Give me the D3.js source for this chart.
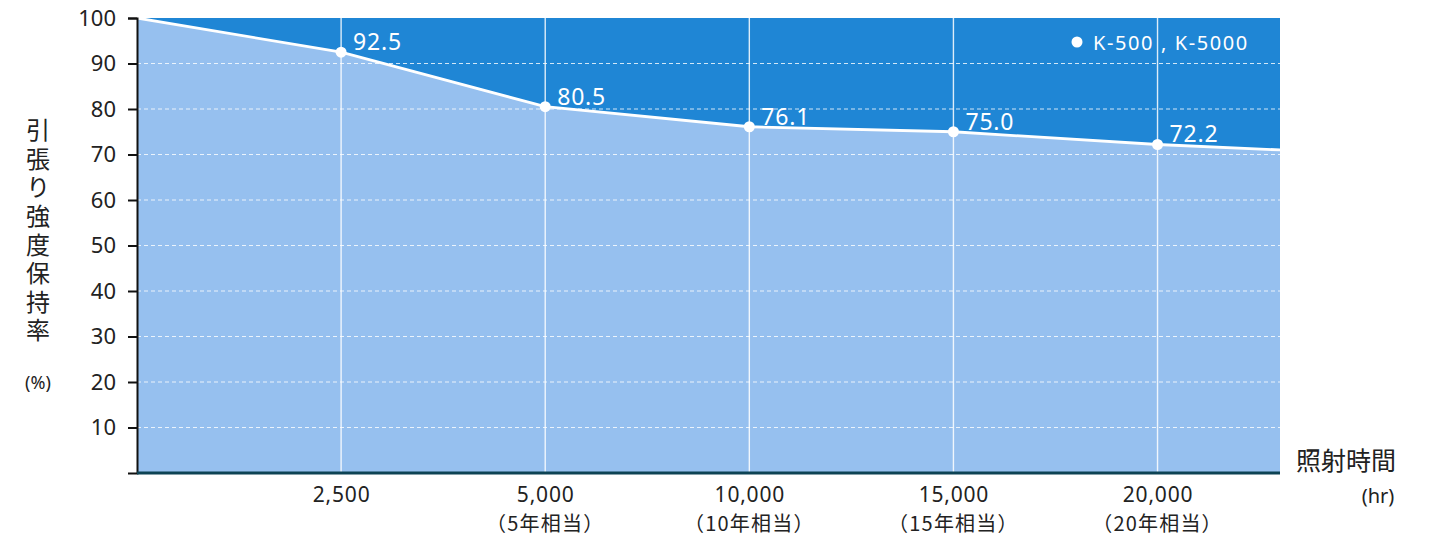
<!DOCTYPE html>
<html>
<head>
<meta charset="utf-8">
<script src="https://cdn.jsdelivr.net/npm/d3@7"></script>
<style>
  body { margin: 0; background: #fff; }
  svg { font-family: "Noto Sans", "Noto Sans CJK JP", sans-serif; }
</style>
</head>
<body>
<div id="chart"></div>
<script>
// data
var hours = ["0", "2,500", "5,000", "10,000", "15,000", "20,000", ""];
var years = ["", "", "（5年相当）", "（10年相当）", "（15年相当）", "（20年相当）", ""];
var values = [100, 92.5, 80.5, 76.1, 75.0, 72.2, 70.2];
var showPoint = [false, true, true, true, true, true, false];
var yTicks = [10, 20, 30, 40, 50, 60, 70, 80, 90, 100];
var yTitle = "引張り強度保持率";
var legendText = "K-500 , K-5000";

var w = 1430, h = 537,
    plotLeft = 137, plotRight = 1280,
    plotTop = 18, plotBottom = 473;

var darkBlue = "#1f86d5",
    lightBlue = "#96c0ef",
    ink = "#222";

var data = values.map(function (v, i) {
    return { i: i, v: v, hr: hours[i], yr: years[i], pt: showPoint[i] };
});

var xScale = d3.scaleLinear()
    .domain([0, 5.6])
    .range([plotLeft, plotRight]);
var yScale = d3.scaleLinear()
    .domain([0, 100])
    .range([plotBottom, plotTop]);

var svg = d3.select("#chart")
    .append("svg")
    .attr("width", w)
    .attr("height", h);

svg.append("clipPath")
    .attr("id", "plotclip")
    .append("rect")
    .attr("x", plotLeft)
    .attr("y", plotTop)
    .attr("width", plotRight - plotLeft)
    .attr("height", plotBottom - plotTop);

var plot = svg.append("g").attr("clip-path", "url(#plotclip)");

// background (upper part)
plot.append("rect")
    .attr("x", plotLeft)
    .attr("y", yScale(100))
    .attr("width", plotRight - plotLeft)
    .attr("height", yScale(0) - yScale(100))
    .attr("fill", darkBlue);

// area below the line
var area = d3.area()
    .x(function (d) { return xScale(d.i); })
    .y0(yScale(0))
    .y1(function (d) { return yScale(d.v); });

plot.append("path")
    .datum(data)
    .attr("d", area)
    .attr("fill", lightBlue);

// horizontal dashed grid
plot.selectAll(".hgrid")
    .data(yTicks.filter(function (t) { return t < 100; }))
    .enter()
    .append("line")
    .attr("class", "hgrid")
    .attr("x1", plotLeft)
    .attr("x2", plotRight)
    .attr("y1", function (d) { return yScale(d); })
    .attr("y2", function (d) { return yScale(d); })
    .attr("stroke", "#ffffff")
    .attr("stroke-opacity", 0.8)
    .attr("stroke-width", 1.2)
    .attr("stroke-dasharray", "4,3");

// vertical grid at categories
plot.selectAll(".vgrid")
    .data(data.filter(function (d) { return d.pt; }))
    .enter()
    .append("line")
    .attr("class", "vgrid")
    .attr("x1", function (d) { return xScale(d.i); })
    .attr("x2", function (d) { return xScale(d.i); })
    .attr("y1", yScale(100))
    .attr("y2", yScale(0))
    .attr("stroke", "#ffffff")
    .attr("stroke-opacity", 0.85)
    .attr("stroke-width", 1.4);

// line
var line = d3.line()
    .x(function (d) { return xScale(d.i); })
    .y(function (d) { return yScale(d.v); });

plot.append("path")
    .datum(data)
    .attr("d", line)
    .attr("fill", "none")
    .attr("stroke", "#ffffff")
    .attr("stroke-width", 2.8);

var pts = data.filter(function (d) { return d.pt; });

svg.selectAll(".dot")
    .data(pts)
    .enter()
    .append("circle")
    .attr("class", "dot")
    .attr("cx", function (d) { return xScale(d.i); })
    .attr("cy", function (d) { return yScale(d.v); })
    .attr("r", 5.5)
    .attr("fill", "#ffffff");

svg.selectAll(".vlabel")
    .data(pts)
    .enter()
    .append("text")
    .attr("class", "vlabel")
    .attr("x", function (d) { return xScale(d.i) + 12; })
    .attr("y", function (d) { return yScale(d.v) - 2; })
    .attr("font-size", "23px")
    .attr("letter-spacing", "0.8px")
    .attr("fill", "#ffffff")
    .text(function (d) { return d.v.toFixed(1); });

// y axis
var yAxis = d3.axisLeft(yScale)
    .tickValues(yTicks)
    .tickSize(9)
    .tickPadding(12);

var gy = svg.append("g")
    .attr("transform", "translate(" + plotLeft + ",0)")
    .call(yAxis);
gy.select(".domain").attr("stroke", "#111").attr("stroke-width", 2);
gy.selectAll(".tick line").attr("stroke", "#111").attr("stroke-width", 2);
gy.selectAll(".tick text")
    .attr("font-size", "22px")
    .attr("fill", ink)
    .attr("font-family", "'Noto Sans', sans-serif");

// x axis (bottom line)
var xAxis = d3.axisBottom(xScale)
    .tickValues(pts.map(function (d) { return d.i; }))
    .tickSize(0)
    .tickPadding(14)
    .tickFormat(function (i) { return hours[i]; });

var gx = svg.append("g")
    .attr("transform", "translate(0," + yScale(0) + ")")
    .call(xAxis);
gx.select(".domain")
    .attr("d", "M" + plotLeft + ",0H" + plotRight)
    .attr("stroke", "#0d4354")
    .attr("stroke-width", 3);
gx.selectAll(".tick text")
    .attr("font-size", "21px")
    .attr("letter-spacing", "0.8px")
    .attr("fill", ink)
    .attr("font-family", "'Noto Sans', sans-serif");

// year sub-labels
svg.selectAll(".yrlabel")
    .data(pts.filter(function (d) { return d.yr; }))
    .enter()
    .append("text")
    .attr("class", "yrlabel")
    .attr("x", function (d) { return xScale(d.i); })
    .attr("y", 531)
    .attr("text-anchor", "middle")
    .attr("font-size", "20px")
    .attr("letter-spacing", "1.2px")
    .attr("font-family", "'Noto Sans CJK JP', sans-serif")
    .attr("fill", ink)
    .text(function (d) { return d.yr; });

// y title (vertical)
svg.append("text")
    .attr("x", 38)
    .attr("y", 118)
    .attr("writing-mode", "vertical-rl")
    .attr("font-size", "24px")
    .attr("letter-spacing", "4.6px")
    .attr("font-family", "'Noto Sans CJK JP', sans-serif")
    .attr("fill", ink)
    .text(yTitle);

svg.append("text")
    .attr("x", 38)
    .attr("y", 389)
    .attr("text-anchor", "middle")
    .attr("font-size", "18px")
    .attr("fill", ink)
    .text("(%)");

// x title
svg.append("text")
    .attr("x", 1296)
    .attr("y", 470)
    .attr("font-size", "25px")
    .attr("font-family", "'Noto Sans CJK JP', sans-serif")
    .attr("fill", ink)
    .text("照射時間");

svg.append("text")
    .attr("x", 1378)
    .attr("y", 503)
    .attr("text-anchor", "middle")
    .attr("font-size", "20px")
    .attr("fill", ink)
    .text("(hr)");

// legend
svg.append("circle")
    .attr("cx", 1077)
    .attr("cy", 42)
    .attr("r", 5.5)
    .attr("fill", "#ffffff");
svg.append("text")
    .attr("x", 1093)
    .attr("y", 50)
    .attr("font-size", "20px")
    .attr("letter-spacing", "1.6px")
    .attr("fill", "#ffffff")
    .text(legendText);
</script>
</body>
</html>
